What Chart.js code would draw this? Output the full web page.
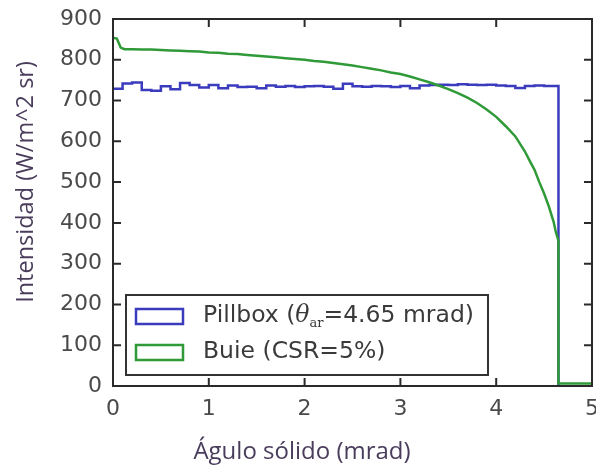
<!DOCTYPE html>
<html>
<head>
<meta charset="utf-8">
<script src="https://cdn.jsdelivr.net/npm/chart.js@4"></script>
<style>
  html, body { margin: 0; padding: 0; background: #fff; }
  #grafico { display: block; }
</style>
</head>
<body>
<canvas id="grafico" width="596" height="470"></canvas>
<script>
// Datos
const pillboxX = [0.0, 0.1, 0.2, 0.3, 0.4, 0.5, 0.6, 0.7, 0.8, 0.9, 1.0, 1.1, 1.2, 1.3, 1.4, 1.5, 1.6, 1.7, 1.8, 1.9,
  2.0, 2.1, 2.2, 2.3, 2.4, 2.5, 2.6, 2.7, 2.8, 2.9, 3.0, 3.1, 3.2, 3.3, 3.4, 3.5, 3.6, 3.7, 3.8, 3.9,
  4.0, 4.1, 4.2, 4.3, 4.4, 4.5, 4.6, 4.65, 4.65];
const pillboxY = [729, 742, 744, 726, 724, 735, 728, 743, 738, 732, 738, 730, 737, 733, 734, 730, 737, 734, 736, 733,
  735, 736, 734, 729, 741, 735, 734, 736, 735, 733, 736, 730, 737, 738, 739, 738, 740, 739, 738, 739,
  737, 736, 731, 736, 737, 736, 736, 736, 0];

const buieX = [0.0, 0.04, 0.08, 0.12, 0.2, 0.3, 0.4, 0.5, 0.6, 0.7, 0.8, 0.9, 1.0, 1.1, 1.2, 1.3, 1.4, 1.5, 1.6, 1.7, 1.8, 1.9,
  2.0, 2.1, 2.2, 2.3, 2.4, 2.5, 2.6, 2.7, 2.8, 2.9, 3.0, 3.1, 3.2, 3.3, 3.4, 3.5, 3.6, 3.7, 3.8, 3.9,
  4.0, 4.1, 4.2, 4.3, 4.35, 4.4, 4.45, 4.5, 4.55, 4.6, 4.62, 4.65, 4.65, 5.0];
const buieY = [854, 852, 830, 826, 826, 825, 825, 824, 823, 822, 821, 820, 818, 817, 815, 814, 812, 810, 808, 806, 804, 802,
  800, 797, 795, 792, 789, 786, 782, 778, 774, 769, 765, 759, 752, 745, 737, 728, 718, 707, 694, 678,
  660, 637, 612, 575, 552, 530, 500, 472, 440, 402, 380, 356, 6, 6];

const xTicks = [0, 1, 2, 3, 4, 5];
const yTicks = [0, 100, 200, 300, 400, 500, 600, 700, 800, 900];

const series = [
  { label: 'Pillbox (θ_ar=4.65 mrad)', xs: pillboxX, ys: pillboxY, color: '#3b3bbd', stepped: 'before', order: 1 },
  { label: 'Buie (CSR=5%)', xs: buieX, ys: buieY, color: '#2f9a37', stepped: false, order: 0 }
];

const colorTicks = '#4a4a4a';
const colorTitulos = '#4a3d5c';

// marco con ticks hacia adentro
const marco = {
  id: 'marco',
  afterDraw(chart) {
    const ctx = chart.ctx;
    const a = chart.chartArea;
    const sx = chart.scales.x, sy = chart.scales.y;
    ctx.save();
    ctx.strokeStyle = '#2a2a2a';
    ctx.lineWidth = 2;
    ctx.beginPath();
    xTicks.forEach(v => {
      const px = sx.getPixelForValue(v);
      ctx.moveTo(px, a.bottom); ctx.lineTo(px, a.bottom - 8);
      ctx.moveTo(px, a.top); ctx.lineTo(px, a.top + 8);
    });
    yTicks.forEach(v => {
      const py = sy.getPixelForValue(v);
      ctx.moveTo(a.left, py); ctx.lineTo(a.left + 8, py);
      ctx.moveTo(a.right, py); ctx.lineTo(a.right - 8, py);
    });
    ctx.stroke();
    ctx.strokeRect(a.left, a.top, a.right - a.left, a.bottom - a.top);
    ctx.restore();
  }
};

// leyenda dentro del area del grafico
const leyenda = {
  id: 'leyenda',
  afterDraw(chart) {
    const ctx = chart.ctx;
    const box = { x: 126, y: 295, w: 362, h: 80 };
    ctx.save();
    ctx.fillStyle = '#ffffff';
    ctx.fillRect(box.x, box.y, box.w, box.h);
    ctx.strokeStyle = '#333333';
    ctx.lineWidth = 2;
    ctx.strokeRect(box.x, box.y, box.w, box.h);
    series.forEach((s, i) => {
      const cy = box.y + 21 + i * 36;
      ctx.strokeStyle = s.color;
      ctx.lineWidth = 2.5;
      ctx.strokeRect(136, cy - 7, 47, 15);
      let x = 203;
      ctx.fillStyle = '#3a3a3a';
      ctx.textBaseline = 'middle';
      ctx.textAlign = 'left';
      const partes = s.label.split(/_(\w+)/);
      partes.forEach((p, j) => {
        if (j % 2 === 1) {
          ctx.font = '13px "DejaVu Serif"';
          ctx.fillText(p, x, cy + 8);
          x += ctx.measureText(p).width;
        } else {
          const k = p.indexOf('θ');
          if (k >= 0) {
            ctx.font = '23.5px "DejaVu Sans"';
            ctx.fillText(p.slice(0, k), x, cy);
            x += ctx.measureText(p.slice(0, k)).width;
            ctx.font = 'italic 23.5px "DejaVu Serif"';
            ctx.fillText('θ', x, cy);
            x += ctx.measureText('θ').width;
          } else {
            ctx.font = '23.5px "DejaVu Sans"';
            ctx.fillText(p, x, cy);
            x += ctx.measureText(p).width;
          }
        }
      });
    });
    ctx.restore();
  }
};

// titulos de los ejes
const titulos = {
  id: 'titulos',
  afterDraw(chart) {
    const ctx = chart.ctx;
    ctx.save();
    ctx.fillStyle = colorTitulos;
    ctx.textAlign = 'center';
    ctx.textBaseline = 'middle';
    ctx.font = '24px "Open Sans"';
    ctx.fillText('Águlo sólido (mrad)', 302, 452);
    ctx.translate(26, 182);
    ctx.rotate(-Math.PI / 2);
    ctx.font = '23.5px "Open Sans"';
    ctx.fillText('Intensidad (W/m^2 sr)', 0, 0);
    ctx.restore();
  }
};

const datasets = series.map(s => ({
  label: s.label,
  data: s.xs.map((x, i) => ({ x: x, y: s.ys[i] })),
  borderColor: s.color,
  backgroundColor: s.color,
  borderWidth: 2.5,
  pointRadius: 0,
  stepped: s.stepped,
  tension: 0,
  fill: false,
  order: s.order
}));

new Chart(document.getElementById('grafico'), {
  type: 'line',
  data: { datasets: datasets },
  options: {
    responsive: false,
    animation: false,
    layout: { padding: { left: 0, right: 4, top: 19, bottom: 0 } },
    plugins: { legend: { display: false }, tooltip: { enabled: false } },
    scales: {
      x: {
        type: 'linear', min: 0, max: 5,
        afterBuildTicks: s => { s.ticks = xTicks.map(v => ({ value: v })); },
        afterFit: s => { s.height = 84; s.paddingLeft = 0; s.paddingRight = 0; },
        grid: { display: false, drawTicks: false },
        border: { display: false },
        ticks: { font: { family: 'DejaVu Sans', size: 22 }, color: colorTicks, padding: 10, maxRotation: 0 }
      },
      y: {
        type: 'linear', min: 0, max: 900,
        afterBuildTicks: s => { s.ticks = yTicks.map(v => ({ value: v })); },
        afterFit: s => { s.width = 113; s.paddingTop = 0; s.paddingBottom = 0; },
        grid: { display: false, drawTicks: false },
        border: { display: false },
        ticks: { font: { family: 'DejaVu Sans', size: 22 }, color: colorTicks, padding: 11 }
      }
    }
  },
  plugins: [marco, leyenda, titulos]
});
</script>
</body>
</html>
